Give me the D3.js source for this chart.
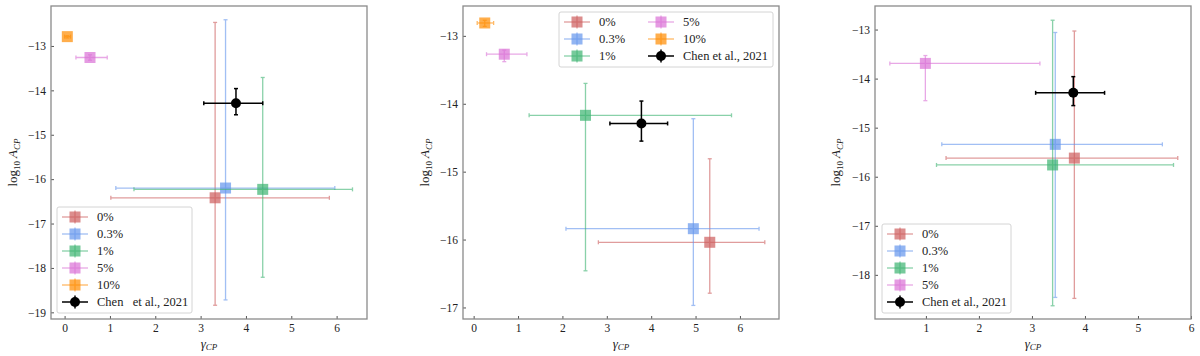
<!DOCTYPE html>
<html>
<head>
<meta charset="utf-8">
<script src="https://cdn.jsdelivr.net/npm/d3@7"></script>
<style>
  body { margin: 0; background: #fff; }
  text { font-family: "Liberation Serif", "DejaVu Serif", serif; fill: #222; }
</style>
</head>
<body>
<svg id="chart" width="1200" height="356"></svg>
<script>
// series labels (noise level) and the reference point
const labels = ["0%", "0.3%", "1%", "5%", "10%"];
const refLabel = "Chen et al., 2021";
const colors = ["#cd5c5c", "#6495ed", "#3cb371", "#da70d6", "#ff8c00"];

// reference point, same in every panel
const refGamma = [3.78, 3.07, 4.37];   // value, low, high
const refLogA = [-14.29, -14.55, -13.96];

// panel 1
const p1Gamma   = [3.32, 3.55, 4.37, 0.56, 0.06];
const p1GammaLo = [1.02, 1.13, 1.53, 0.25, 0.00];
const p1GammaHi = [5.84, 5.96, 6.35, 0.94, 0.13];
const p1LogA    = [-16.42, -16.20, -16.23, -13.26, -12.79];
const p1LogALo  = [-18.84, -18.72, -18.21, -13.32, -12.82];
const p1LogAHi  = [-12.47, -12.41, -13.71, -13.20, -12.77];

// panel 2
const p2Gamma   = [5.32, 4.95, 2.52, 0.69, 0.25];
const p2GammaLo = [2.81, 2.08, 1.25, 0.29, 0.08];
const p2GammaHi = [6.56, 6.43, 5.81, 1.20, 0.45];
const p2LogA    = [-16.04, -15.84, -14.17, -13.27, -12.81];
const p2LogALo  = [-16.79, -16.97, -16.46, -13.38, -12.86];
const p2LogAHi  = [-14.81, -14.22, -13.70, -13.21, -12.77];

// panel 3 (no 10% series)
const p3Gamma   = [3.80, 3.44, 3.39, 0.99];
const p3GammaLo = [1.38, 1.30, 1.20, 0.32];
const p3GammaHi = [5.75, 5.46, 5.67, 3.15];
const p3LogA    = [-15.62, -15.34, -15.76, -13.69];
const p3LogALo  = [-18.48, -18.46, -18.63, -14.45];
const p3LogAHi  = [-13.03, -13.06, -12.81, -13.53];

const p1XTicks = [0, 1, 2, 3, 4, 5, 6];
const p1YTicks = [-13, -14, -15, -16, -17, -18, -19];
const p2XTicks = [0, 1, 2, 3, 4, 5, 6];
const p2YTicks = [-13, -14, -15, -16, -17];
const p3XTicks = [1, 2, 3, 4, 5, 6];
const p3YTicks = [-13, -14, -15, -16, -17, -18];

const svg = d3.select("#chart");

function series(g, gLo, gHi, a, aLo, aHi) {
    return g.map((v, i) => ({
        label: labels[i], color: colors[i],
        x: v, xlo: gLo[i], xhi: gHi[i], y: a[i], ylo: aLo[i], yhi: aHi[i]
    }));
}

const panels = [
    { left: 51, right: 367, top: 6, bottom: 319, xDom: [-0.30, 6.67], yDom: [-19.15, -12.10],
      xTicks: p1XTicks, yTicks: p1YTicks, ylabX: 17,
      data: series(p1Gamma, p1GammaLo, p1GammaHi, p1LogA, p1LogALo, p1LogAHi),
      legend: { x: 57, y: 207, w: 135, h: 106, cols: 1, refText: "Chen   et al., 2021" } },
    { left: 463, right: 779, top: 6, bottom: 319, xDom: [-0.24, 6.88], yDom: [-17.17, -12.56],
      xTicks: p2XTicks, yTicks: p2YTicks, ylabX: 429,
      data: series(p2Gamma, p2GammaLo, p2GammaHi, p2LogA, p2LogALo, p2LogAHi),
      legend: { x: 559, y: 12, w: 214, h: 55, cols: 2, refText: refLabel } },
    { left: 875, right: 1191, top: 6, bottom: 319, xDom: [0.04, 6.0], yDom: [-18.90, -12.52],
      xTicks: p3XTicks, yTicks: p3YTicks, ylabX: 840,
      data: series(p3Gamma, p3GammaLo, p3GammaHi, p3LogA, p3LogALo, p3LogAHi),
      legend: { x: 882, y: 224, w: 129, h: 89, cols: 1, refText: refLabel } }
];

function drawErrorbar(g, d, x, y, opts) {
    const cap = 2;
    const eb = g.append("g").attr("stroke", d.color).attr("stroke-width", opts.lw)
        .attr("opacity", opts.lineAlpha);
    eb.append("line").attr("x1", x(d.xlo)).attr("x2", x(d.xhi)).attr("y1", y(d.y)).attr("y2", y(d.y));
    eb.append("line").attr("x1", x(d.x)).attr("x2", x(d.x)).attr("y1", y(d.ylo)).attr("y2", y(d.yhi));
    [d.xlo, d.xhi].forEach(v => eb.append("line")
        .attr("x1", x(v)).attr("x2", x(v)).attr("y1", y(d.y) - cap).attr("y2", y(d.y) + cap));
    [d.ylo, d.yhi].forEach(v => eb.append("line")
        .attr("y1", y(v)).attr("y2", y(v)).attr("x1", x(d.x) - cap).attr("x2", x(d.x) + cap));
    if (opts.circle) {
        g.append("circle").attr("cx", x(d.x)).attr("cy", y(d.y)).attr("r", 5).attr("fill", d.color);
    } else {
        g.append("rect").attr("x", x(d.x) - 5.5).attr("y", y(d.y) - 5.5)
            .attr("width", 11).attr("height", 11)
            .attr("fill", d.color).attr("fill-opacity", 0.7);
    }
}

panels.forEach(p => {
    const x = d3.scaleLinear().domain(p.xDom).range([p.left, p.right]);
    const y = d3.scaleLinear().domain(p.yDom).range([p.bottom, p.top]);
    const g = svg.append("g");

    // axes, ticks pointing inwards
    const xAxis = g.append("g").attr("transform", `translate(0,${p.bottom})`)
        .call(d3.axisBottom(x).tickValues(p.xTicks).tickSize(-3).tickPadding(5).tickFormat(d3.format("d")));
    const yAxis = g.append("g").attr("transform", `translate(${p.left},0)`)
        .call(d3.axisLeft(y).tickValues(p.yTicks).tickSize(-3).tickPadding(5).tickFormat(d3.format("d")));
    [xAxis, yAxis].forEach(a => {
        a.select(".domain").remove();
        a.selectAll(".tick line").attr("stroke", "#555");
        a.selectAll("text").attr("font-size", 11.5).attr("font-family", null).attr("fill", "#333");
    });

    // markers
    p.data.forEach(d => drawErrorbar(g, d, x, y, { lw: 1.3, lineAlpha: 0.6 }));
    drawErrorbar(g, { color: "#000", x: refGamma[0], xlo: refGamma[1], xhi: refGamma[2],
        y: refLogA[0], ylo: refLogA[1], yhi: refLogA[2] }, x, y, { lw: 1.5, lineAlpha: 1, circle: true });

    // frame
    g.append("rect").attr("x", p.left).attr("y", p.top)
        .attr("width", p.right - p.left).attr("height", p.bottom - p.top)
        .attr("fill", "none").attr("stroke", "#8a8a8a").attr("stroke-width", 1.3);

    // axis labels
    const xl = g.append("text").attr("x", (p.left + p.right) / 2).attr("y", 348)
        .attr("text-anchor", "middle").attr("font-size", 13);
    xl.append("tspan").attr("font-style", "italic").text("γ");
    xl.append("tspan").attr("font-style", "italic").attr("font-size", 9).attr("dy", 2).text("CP");

    const yl = g.append("text")
        .attr("transform", `translate(${p.ylabX},${(p.top + p.bottom) / 2}) rotate(-90)`)
        .attr("text-anchor", "middle").attr("font-size", 13);
    yl.append("tspan").text("log");
    yl.append("tspan").attr("font-size", 9).attr("dy", 3).text("10");
    yl.append("tspan").attr("font-style", "italic").attr("dy", -3).text(" A");
    yl.append("tspan").attr("font-style", "italic").attr("font-size", 9).attr("dy", 3).text("CP");

    // legend
    const L = p.legend;
    const lg = g.append("g");
    lg.append("rect").attr("x", L.x).attr("y", L.y).attr("width", L.w).attr("height", L.h)
        .attr("rx", 2).attr("fill", "#fff").attr("fill-opacity", 0.85)
        .attr("stroke", "#d4d4d4").attr("stroke-width", 1);
    const entries = p.data.map(d => ({ label: d.label, color: d.color, circle: false }))
        .concat([{ label: L.refText, color: "#000", circle: true }]);
    const rows = L.cols === 1 ? entries.length : 3;
    entries.forEach((e, i) => {
        const col = Math.floor(i / rows), row = i % rows;
        const hx = L.x + 5 + col * 84, cy = L.y + 10 + row * 17;
        const item = lg.append("g");
        const hl = item.append("g").attr("stroke", e.color).attr("stroke-width", e.circle ? 1.5 : 1.3)
            .attr("opacity", e.circle ? 1 : 0.6);
        hl.append("line").attr("x1", hx).attr("x2", hx + 26).attr("y1", cy).attr("y2", cy);
        hl.append("line").attr("x1", hx + 13).attr("x2", hx + 13).attr("y1", cy - 6.5).attr("y2", cy + 6.5);
        if (e.circle) {
            item.append("circle").attr("cx", hx + 13).attr("cy", cy).attr("r", 5).attr("fill", e.color);
        } else {
            item.append("rect").attr("x", hx + 7.5).attr("y", cy - 5.5).attr("width", 11).attr("height", 11)
                .attr("fill", e.color).attr("fill-opacity", 0.7);
        }
        item.append("text").attr("x", hx + 35).attr("y", cy).attr("dy", "0.35em")
            .attr("font-size", 12.5).style("white-space", "pre").text(e.label);
    });
});
</script>
</body>
</html>
